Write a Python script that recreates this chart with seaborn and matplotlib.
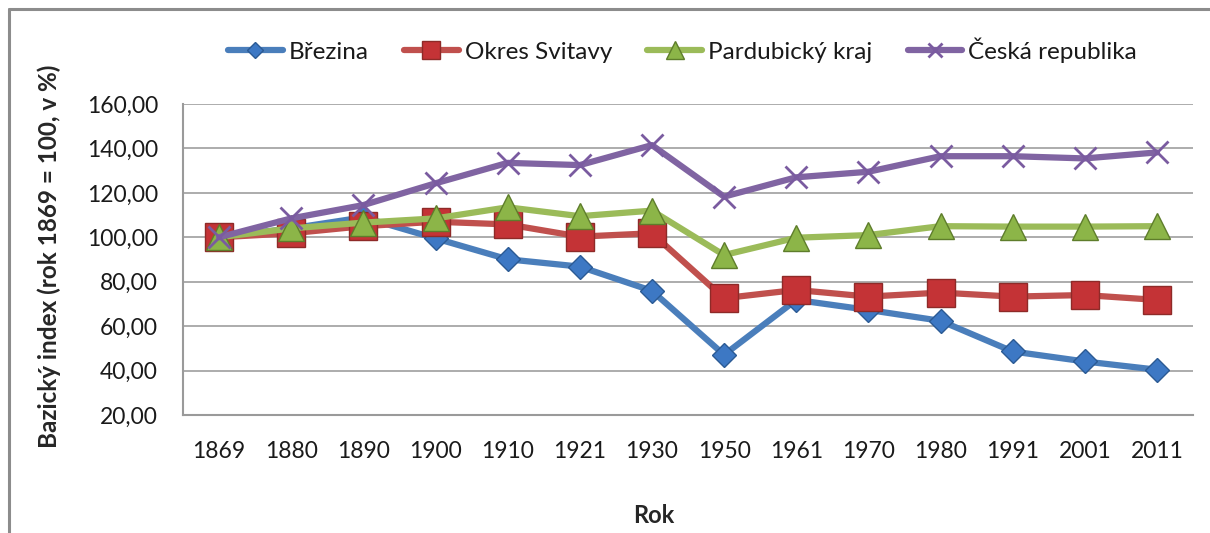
import matplotlib
matplotlib.use("Agg")
import matplotlib.pyplot as plt
import matplotlib.ticker as mticker
from matplotlib.lines import Line2D
import seaborn as sns

# -----------------------------
# Data
# -----------------------------
years = ["1869", "1880", "1890", "1900", "1910", "1921", "1930",
         "1950", "1961", "1970", "1980", "1991", "2001", "2011"]

brezina = [100.0, 104.0, 109.0, 99.5, 90.1, 86.8, 75.9,
           47.1, 71.8, 67.3, 62.4, 48.6, 44.1, 40.4]
okres_svitavy = [100.0, 101.8, 105.0, 107.0, 105.8, 100.3, 101.8,
                 72.6, 76.3, 73.3, 75.1, 73.3, 74.0, 71.8]
pardubicky_kraj = [100.0, 104.0, 106.6, 108.5, 113.5, 109.5, 112.0,
                   92.0, 99.8, 101.0, 105.0, 104.8, 104.8, 105.0]
ceska_republika = [100.0, 108.5, 114.5, 124.3, 133.5, 132.5, 141.5,
                   118.3, 127.0, 129.5, 136.5, 136.5, 135.5, 138.2]

series_names = ["Březina", "Okres Svitavy", "Pardubický kraj", "Česká republika"]

# -----------------------------
# Style
# -----------------------------
sns.set_style("white")
plt.rcParams["font.family"] = ["Lato", "DejaVu Sans"]
plt.rcParams["text.color"] = "#1a1a1a"

fig = plt.figure(figsize=(12.1, 5.33), dpi=100)
ax = fig.add_axes([183 / 1210, 1 - 415 / 533, 1010 / 1210, 311 / 533])

styles = [
    dict(color="#4a7ebb", marker="D", markersize=12.5, mfc="#3d78c4", mec="#2b5a94", mew=1.0),
    dict(color="#c0504d", marker="s", markersize=20, mfc="#c43336", mec="#8e2a28", mew=1.0),
    dict(color="#9bbb59", marker="^", markersize=19, mfc="#8cb548", mec="#5e7d2b", mew=1.0),
    dict(color="#8064a2", marker="x", markersize=16, mec="#7a5ba0", mew=2.0),
]

for name, vals, st in zip(series_names,
                          [brezina, okres_svitavy, pardubicky_kraj, ceska_republika],
                          styles):
    sns.lineplot(x=years, y=vals, ax=ax, sort=False, linewidth=4.5,
                 color=st["color"], marker=st["marker"], markersize=st["markersize"],
                 markerfacecolor=st.get("mfc", st["color"]),
                 markeredgecolor=st["mec"], markeredgewidth=st["mew"],
                 label=name)

# -----------------------------
# Axes
# -----------------------------
ax.set_ylim(20, 160)
ax.set_xlim(-0.5, len(years) - 0.5)
ax.yaxis.set_major_locator(mticker.MultipleLocator(20))
ax.yaxis.set_major_formatter(mticker.FuncFormatter(lambda v, p: f"{v:.2f}".replace(".", ",")))
ax.grid(axis="y", color="#a6a6a6", linewidth=1.3)
ax.set_axisbelow(True)

for side in ["top", "right"]:
    ax.spines[side].set_visible(False)
for side in ["left", "bottom"]:
    ax.spines[side].set_color("#9a9a9a")
    ax.spines[side].set_linewidth(1.5)

ax.tick_params(axis="x", length=0, pad=19, labelsize=16.5, colors="#1a1a1a")
ax.tick_params(axis="y", length=0, pad=18, labelsize=16.5, colors="#1a1a1a")

ax.set_xlabel("Rok", fontsize=17, fontweight="bold")
ax.set_ylabel("Bazický index (rok 1869 = 100, v %)", fontsize=17.5, fontweight="bold")
ax.xaxis.set_label_coords((654 - 183) / 1010, (415 - 504) / 311)
ax.yaxis.set_label_coords((61 - 183) / 1010, 0.51)

# -----------------------------
# Legend
# -----------------------------
handles, labels = ax.get_legend_handles_labels()
leg = ax.legend(handles, labels, loc="center", bbox_to_anchor=(0.4946, 1.174),
                ncol=4, frameon=False, fontsize=17.5, handlelength=2.25,
                handletextpad=0.25, columnspacing=1.45, markerscale=0.65)

# -----------------------------
# Chart frame (top and left edges visible)
# -----------------------------
fig.add_artist(Line2D([9 / 1210, 1.0], [1 - 9 / 533, 1 - 9 / 533],
                      transform=fig.transFigure, color="#8c8c8c", linewidth=2.2))
fig.add_artist(Line2D([9 / 1210, 9 / 1210], [0.0, 1 - 9 / 533],
                      transform=fig.transFigure, color="#8c8c8c", linewidth=2.2))

fig.savefig("out.png", dpi=100)
plt.close(fig)
